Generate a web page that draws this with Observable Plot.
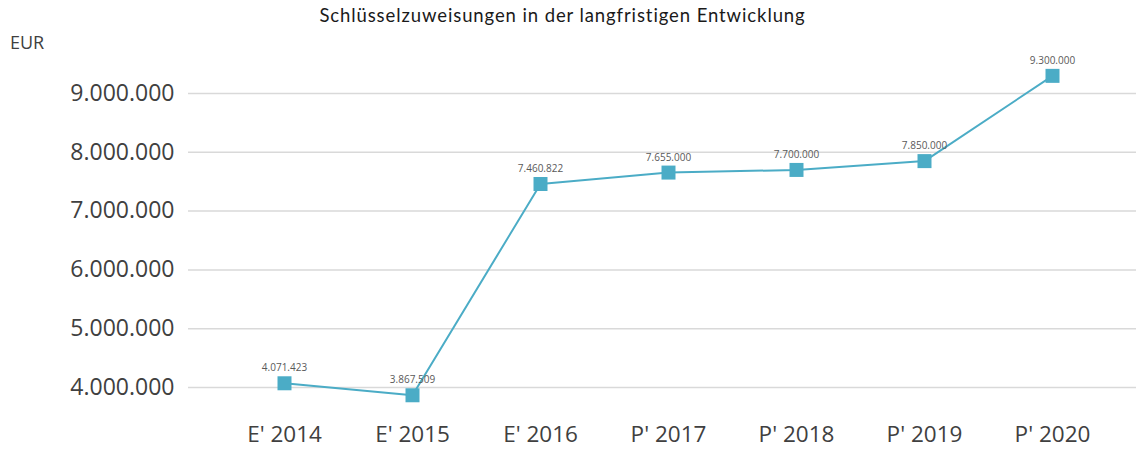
<!DOCTYPE html>
<html>
<head>
<meta charset="utf-8">
<script src="https://cdn.jsdelivr.net/npm/d3@7"></script>
<script src="https://cdn.jsdelivr.net/npm/@observablehq/plot@0.6"></script>
<style>
  html, body { margin: 0; padding: 0; background: #fff; }
  #wrap { position: relative; width: 1136px; height: 449px; font-family: "Open Sans", sans-serif; }
  #title { position: absolute; left: 0; width: 1125px; top: 4px; text-align: center; font-family: Lato, sans-serif; font-size: 18.5px; letter-spacing: 0.9px; color: #1a1a1a; }
  #unit { position: absolute; left: 10px; top: 30px; font-size: 18px; color: #404040; }
  #chart { position: absolute; left: 0; top: 0; }
</style>
</head>
<body>
<div id="wrap">
  <div id="chart"></div>
  <div id="title">Schlüsselzuweisungen in der langfristigen Entwicklung</div>
  <div id="unit">EUR</div>
</div>
<script>
const categories = ["E' 2014", "E' 2015", "E' 2016", "P' 2017", "P' 2018", "P' 2019", "P' 2020"];
const values = [4071423, 3867509, 7460822, 7655000, 7700000, 7850000, 9300000];
const yTicks = [4000000, 5000000, 6000000, 7000000, 8000000, 9000000];

const de = d3.formatLocale({decimal: ",", thousands: ".", grouping: [3], currency: ["", " €"]});
const fmt = de.format(",d");

const data = categories.map((c, i) => ({cat: c, value: values[i]}));
const color = "#4BACC6";

const chart = Plot.plot({
  width: 1136,
  height: 449,
  marginLeft: 188,
  marginRight: 0,
  marginTop: 63.6,
  marginBottom: 38.5,
  style: {fontFamily: "'Open Sans', sans-serif", background: "transparent", overflow: "visible"},
  x: {type: "point", domain: categories, padding: 0.703, align: 0.533, label: null},
  y: {domain: [3600000, 9500000], label: null},
  marks: [
    Plot.ruleY(yTicks, {stroke: "#d9d9d9", strokeWidth: 1.5}),
    Plot.axisY({ticks: yTicks, tickFormat: fmt, tickSize: 0, tickPadding: 14, fontSize: 23, fill: "#404040", label: null}),
    Plot.axisX({tickSize: 0, tickPadding: 15.5, fontSize: 22.5, fill: "#404040", label: null}),
    Plot.line(data, {x: "cat", y: "value", stroke: color, strokeWidth: 2}),
    Plot.dot(data, {x: "cat", y: "value", symbol: "square", r: 7.9, fill: color, stroke: "none"}),
    Plot.text(data, {x: "cat", y: "value", text: d => fmt(d.value), dy: -15, fontSize: 10, fill: "#595959"})
  ]
});
document.getElementById("chart").appendChild(chart);
</script>
</body>
</html>
